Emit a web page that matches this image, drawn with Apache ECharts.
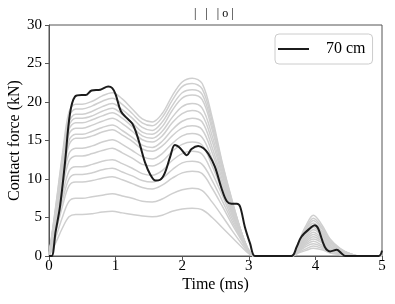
<!DOCTYPE html>
<html><head><meta charset="utf-8">
<script src="https://cdn.jsdelivr.net/npm/echarts@6/dist/echarts.min.js"></script>
<style>html,body{margin:0;padding:0;background:#fff}#c{width:395px;height:304px}</style>
</head><body><div id="c"></div><script>
// ---- data ----
const titleText = '|   |   | o |';
const legendName = '70 cm';
const xTicks = [0, 1, 2, 3, 4, 5];
const yTicks = [0, 5, 10, 15, 20, 25, 30];

const grayTimes = [0, 0.1, 0.2, 0.3, 0.4, 0.5, 0.65, 0.8, 0.95, 1.1, 1.25, 1.4, 1.55, 1.7, 1.85, 2.0, 2.15, 2.3, 2.45, 2.6, 2.75, 2.9, 3.0, 3.08, 3.65, 3.75, 3.85, 3.97, 4.1, 4.22, 4.37, 4.52, 4.65, 5.0];
const g1  = [0,6.4,13.1,18.7,19.7,19.7,20.1,20.8,21.2,20.4,19.1,17.8,17.4,18.5,20.8,22.6,23.1,22.4,18.0,12.2,7.2,2.8,0.7,0, 0,1.9,3.8,5.3,4.0,2.2,1.0,0.3,0,0];
const g2  = [0,6.2,12.7,18.0,19.1,19.1,19.5,20.1,20.5,19.7,18.5,17.3,16.9,18.0,20.2,22.0,22.4,21.7,17.5,12.0,7.1,2.8,0.7,0, 0,1.7,3.5,4.9,3.7,2.1,0.9,0.3,0,0];
const g3  = [0,5.9,12.3,17.4,18.4,18.4,18.8,19.4,19.8,19.0,17.9,16.7,16.3,17.4,19.5,21.2,21.6,21.0,16.9,11.7,6.9,2.8,0.7,0, 0,1.6,3.3,4.6,3.5,1.9,0.9,0.3,0,0];
const g4  = [0,5.8,11.9,16.9,17.9,17.9,18.2,18.8,19.2,18.4,17.3,16.1,15.8,16.8,18.9,20.5,20.9,20.3,16.4,11.4,6.8,2.8,0.7,0, 0,1.5,3.1,4.3,3.2,1.8,0.8,0.3,0,0];
const g5  = [0,5.6,11.5,16.4,17.3,17.3,17.7,18.2,18.6,17.9,16.8,15.6,15.3,16.2,18.0,19.4,19.8,19.2,15.6,10.9,6.5,2.7,0.7,0, 0,1.4,2.9,4.0,3.0,1.7,0.8,0.2,0,0];
const g6  = [0,5.4,11.1,15.8,16.6,16.6,17.0,17.5,17.9,17.2,16.2,15.1,14.8,15.6,17.3,18.5,18.9,18.3,14.9,10.5,6.3,2.7,0.7,0, 0,1.3,2.7,3.7,2.8,1.6,0.7,0.2,0,0];
const g7  = [0,5.1,10.5,15.0,15.8,15.8,16.2,16.7,17.0,16.3,15.4,14.4,14.1,14.9,16.4,17.5,17.9,17.4,14.1,10.0,6.1,2.6,0.7,0, 0,1.2,2.4,3.4,2.6,1.4,0.6,0.2,0,0];
const g8  = [0,4.9,10.2,14.4,15.3,15.3,15.6,16.1,16.4,15.7,14.9,13.9,13.6,14.3,15.6,16.6,16.9,16.4,13.4,9.5,5.8,2.5,0.7,0, 0,1.1,2.2,3.1,2.3,1.3,0.6,0.2,0,0];
const g9  = [0,4.5,9.4,13.3,14.0,14.0,14.3,14.8,15.1,14.5,13.7,12.9,12.6,13.3,14.6,15.6,15.9,15.4,12.6,9.1,5.6,2.4,0.7,0, 0,1.0,2.0,2.8,2.1,1.2,0.5,0.2,0,0];
const g10 = [0,4.2,8.7,12.3,13.0,13.0,13.3,13.7,14.0,13.4,12.7,11.9,11.7,12.3,13.6,14.5,14.8,14.4,11.7,8.5,5.3,2.4,0.6,0, 0,0.9,1.8,2.5,1.9,1.1,0.5,0.2,0,0];
const g11 = [0,3.8,7.8,11.0,11.6,11.6,11.9,12.3,12.5,12.0,11.4,10.7,10.5,11.1,12.4,13.3,13.6,13.2,10.8,7.9,4.9,2.2,0.6,0, 0,0.8,1.6,2.2,1.7,0.9,0.4,0.1,0,0];
const g12 = [0,3.4,7.1,10.0,10.6,10.6,10.8,11.2,11.4,10.9,10.4,9.8,9.6,10.1,11.2,12.1,12.3,11.9,9.8,7.2,4.5,2.1,0.6,0, 0,0.7,1.4,1.9,1.4,0.8,0.4,0.1,0,0];
const g13 = [0,3.1,6.4,9.1,9.6,9.6,9.8,10.1,10.3,9.9,9.4,8.9,8.7,9.2,10.1,10.8,11.0,10.7,8.8,6.5,4.1,1.9,0.5,0, 0,0.6,1.2,1.6,1.2,0.7,0.3,0.1,0,0];
const g14 = [0,2.4,5.0,7.1,7.5,7.5,7.7,7.9,8.1,7.8,7.5,7.1,7.0,7.4,8.1,8.6,8.8,8.5,7.0,5.2,3.3,1.5,0.4,0, 0,0.5,0.9,1.3,1.0,0.5,0.2,0.1,0,0];
const g15 = [0,1.7,3.6,5.1,5.4,5.4,5.5,5.7,5.8,5.6,5.4,5.2,5.1,5.3,5.8,6.1,6.2,6.0,5.0,3.7,2.4,1.1,0.3,0, 0,0.4,0.7,1.0,0.8,0.4,0.2,0.1,0,0];
const grayLines = [g1,g2,g3,g4,g5,g6,g7,g8,g9,g10,g11,g12,g13,g14,g15];

const blackTimes = [0, 0.04, 0.1, 0.165, 0.24, 0.315, 0.39, 0.49, 0.55, 0.64, 0.77, 0.89, 0.95, 1.0, 1.08, 1.17, 1.25, 1.31, 1.37, 1.44, 1.52, 1.6, 1.67, 1.74, 1.82, 1.89, 1.97, 2.07, 2.14, 2.24, 2.32, 2.39, 2.49, 2.59, 2.67, 2.74, 2.82, 2.87, 2.94, 3.02, 3.09, 3.2, 3.64, 3.72, 3.79, 3.92, 3.99, 4.04, 4.14, 4.22, 4.32, 4.39, 4.45, 4.95, 5.0];
const blackValues = [0, 0, 3.2, 6.4, 12.1, 18.5, 20.7, 20.9, 20.9, 21.5, 21.6, 22.0, 21.8, 21.0, 18.8, 17.9, 17.2, 16.0, 14.3, 12.2, 10.6, 9.8, 9.9, 10.8, 12.9, 14.4, 14.0, 13.1, 13.9, 14.3, 14.0, 13.3, 11.6, 8.8, 7.1, 6.8, 6.8, 6.4, 3.8, 1.6, 0, 0, 0, 1.2, 2.5, 3.6, 4.0, 3.6, 1.2, 0.6, 0.8, 0.35, 0, 0, 0.7];

// ---- chart ----
const FONT = '"Liberation Serif", "DejaVu Serif", "Times New Roman", serif';
const pairs = (ts, vs) => ts.map((t, i) => [t, vs[i]]);
const chart = echarts.init(document.getElementById('c'), null, {renderer: 'canvas'});
const series = grayLines.map((vs, i) => ({
  type: 'line', name: 'gray' + i, data: pairs(grayTimes, vs), symbol: 'none', smooth: 0.35,
  lineStyle: {color: '#cfcfcf', width: 1.5}, itemStyle: {color: '#cfcfcf'}, z: 2, silent: true
}));
series.push({
  type: 'line', name: legendName, data: pairs(blackTimes, blackValues), symbol: 'none', smooth: 0.35,
  lineStyle: {color: '#1c1c1c', width: 2}, itemStyle: {color: '#1c1c1c'}, z: 5
});
chart.setOption({
  animation: false,
  backgroundColor: '#fff',
  title: {text: titleText, left: 194, top: 8, padding: 0,
    textStyle: {fontFamily: FONT, fontSize: 12, fontWeight: 'normal', color: '#000'}},
  legend: {
    data: [{name: legendName, icon: 'rect'}], left: 275, top: 34,
    itemWidth: 31, itemHeight: 2, padding: [7, 7, 7, 3],
    borderColor: '#cccccc', borderWidth: 1, borderRadius: 4, backgroundColor: '#fff',
    formatter: n => '   ' + n,
    textStyle: {fontFamily: FONT, fontSize: 16, color: '#000'}
  },
  grid: {left: 49, right: 13, top: 25, bottom: 48, show: true, borderColor: '#555', borderWidth: 1,
    containLabel: false, outerBoundsMode: 'none'},
  xAxis: {
    type: 'value', min: xTicks[0], max: xTicks[xTicks.length - 1], interval: 1,
    name: 'Time (ms)', nameLocation: 'middle', nameGap: 21, nameMoveOverlap: false,
    nameTextStyle: {fontFamily: FONT, fontSize: 16, color: '#000'},
    axisLine: {show: true, lineStyle: {color: '#555', width: 1}},
    axisTick: {show: true, length: 4, lineStyle: {color: '#555'}},
    axisLabel: {fontFamily: FONT, fontSize: 15, color: '#000', margin: 3},
    splitLine: {show: false}
  },
  yAxis: {
    type: 'value', min: yTicks[0], max: yTicks[yTicks.length - 1], interval: 5,
    name: 'Contact force (kN)', nameLocation: 'middle', nameGap: 26, nameMoveOverlap: false,
    nameTextStyle: {fontFamily: FONT, fontSize: 16, color: '#000'},
    axisLine: {show: true, lineStyle: {color: '#555', width: 1}},
    axisTick: {show: true, length: 4, lineStyle: {color: '#555'}},
    axisLabel: {fontFamily: FONT, fontSize: 15, color: '#000', margin: 7},
    splitLine: {show: false}
  },
  series: series
});
</script></body></html>
